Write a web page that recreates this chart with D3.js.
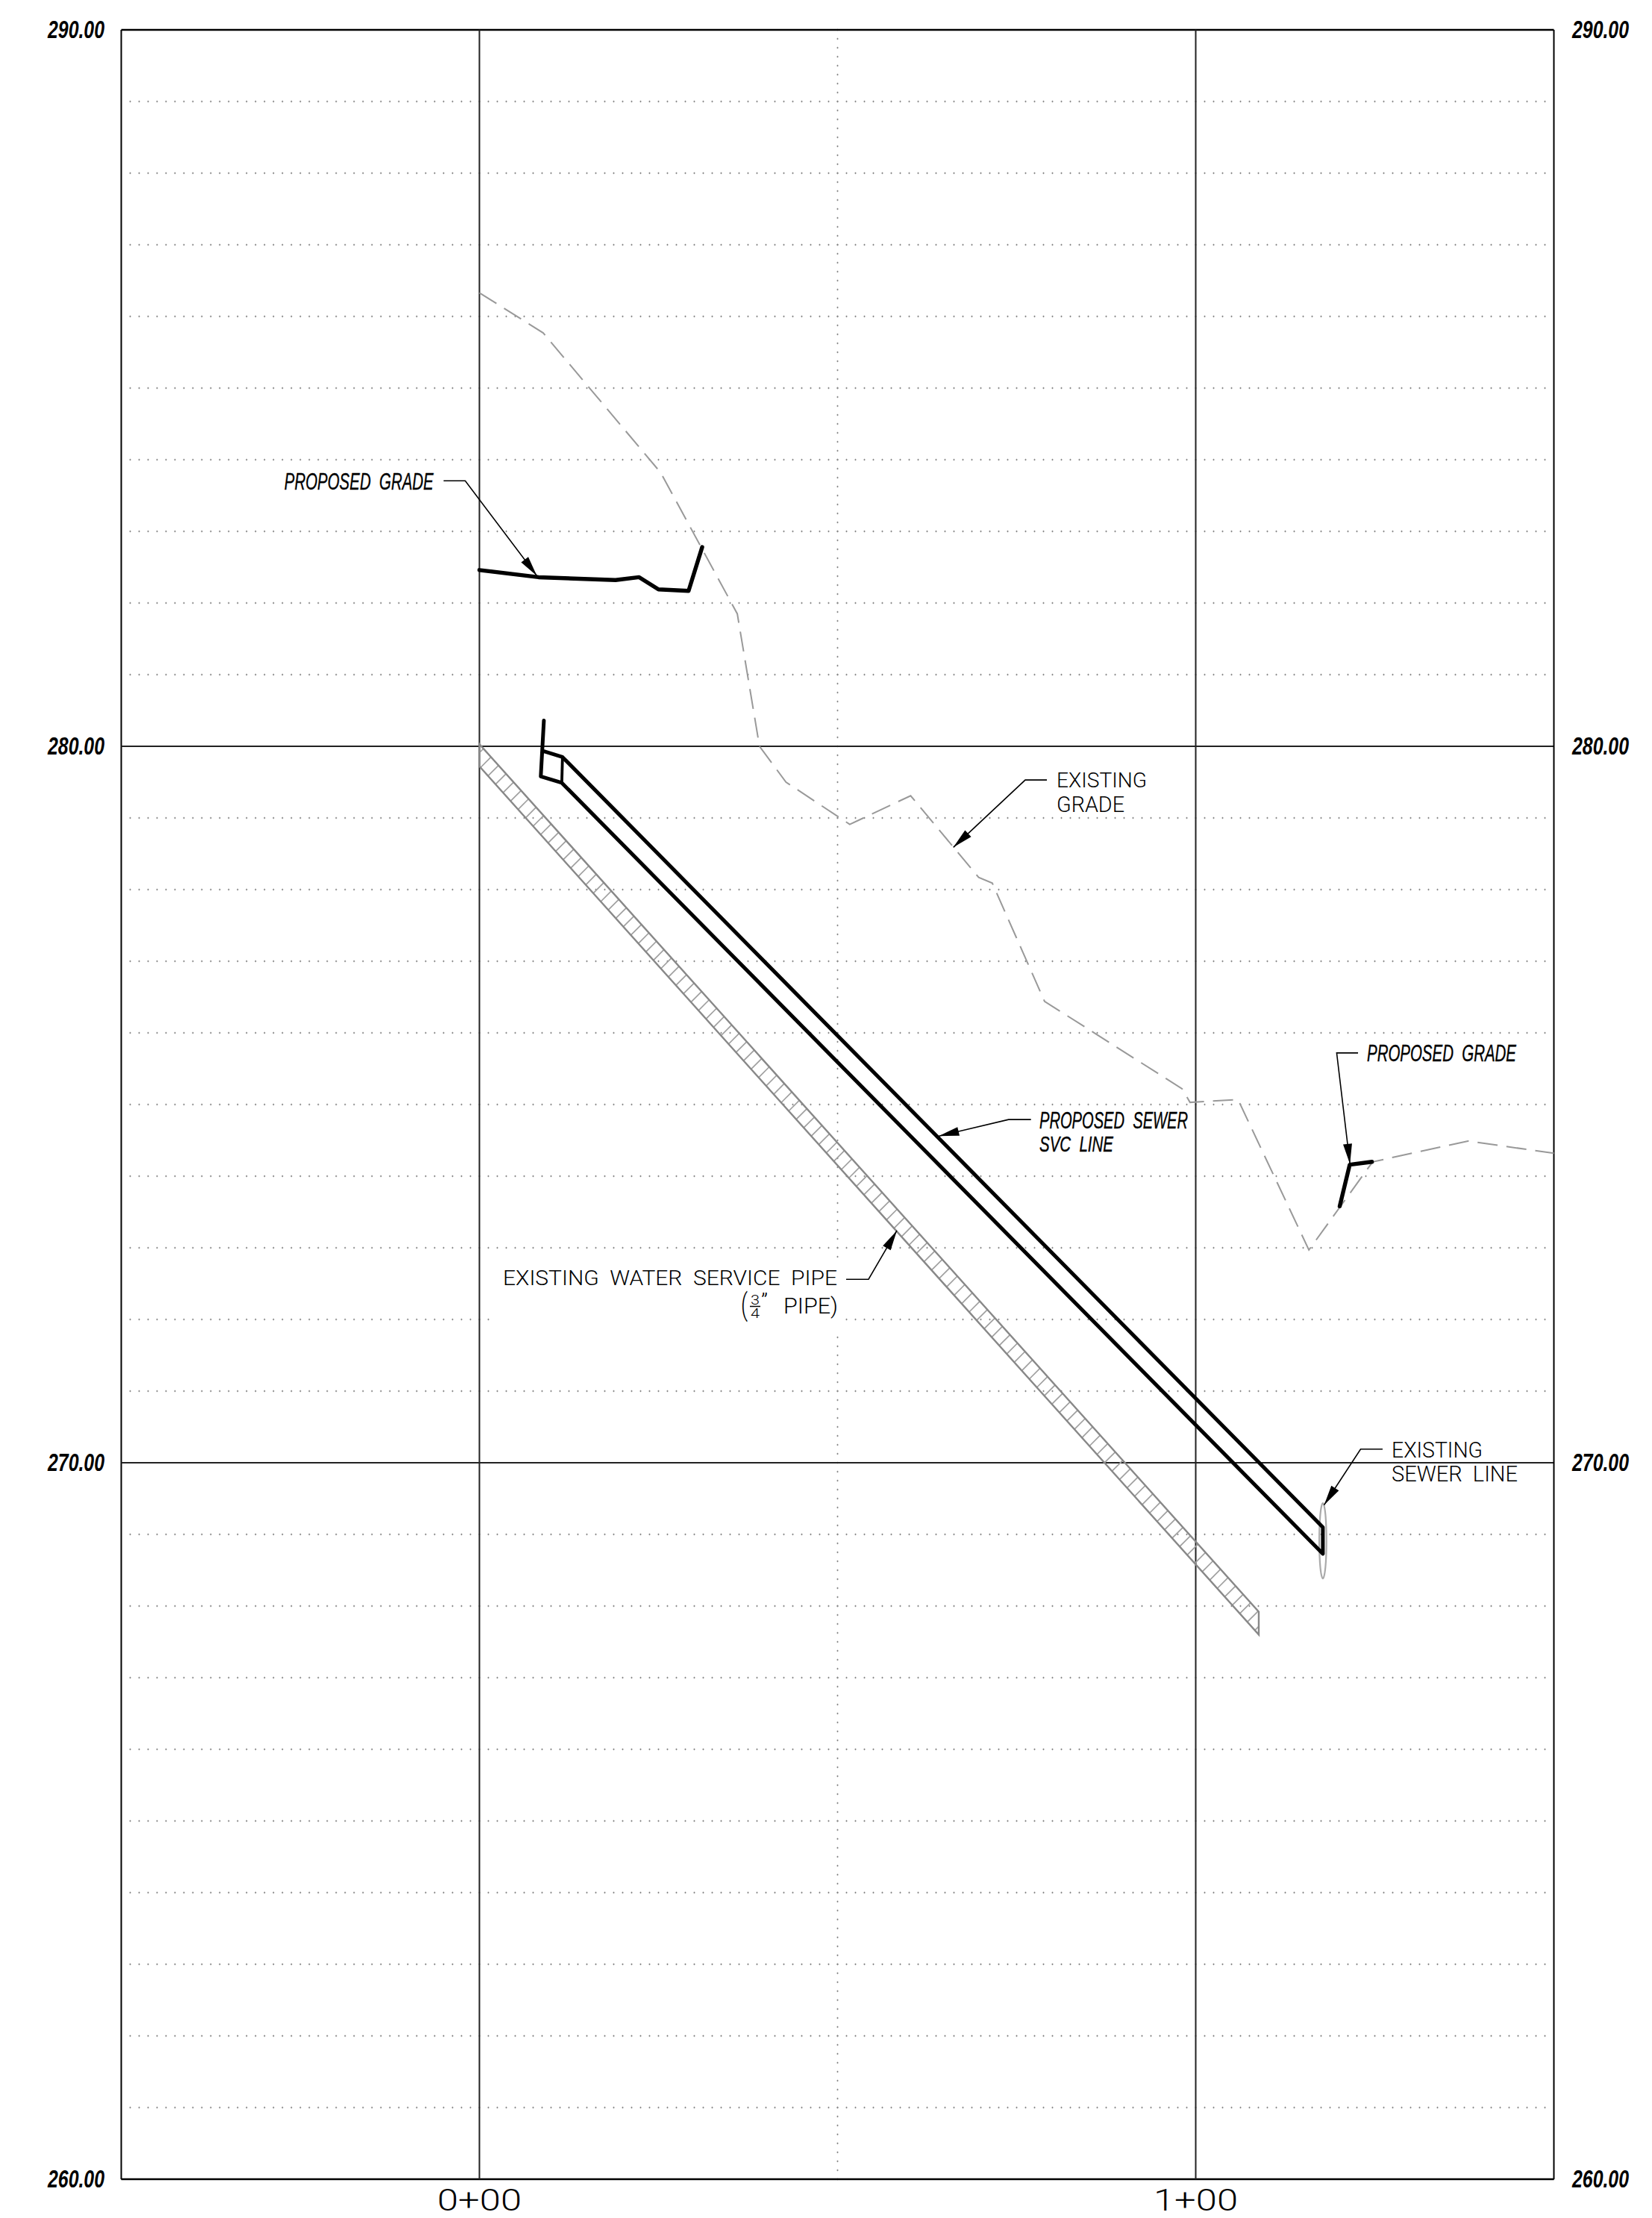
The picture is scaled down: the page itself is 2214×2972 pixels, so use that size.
<!DOCTYPE html>
<html>
<head>
<meta charset="utf-8">
<script src="https://cdnjs.cloudflare.com/ajax/libs/d3/7.8.5/d3.min.js"></script>
<style>
  html, body { margin: 0; background: #fff; }
  svg { display: block; }
  text { white-space: pre; }
  .note { font-family: "Roboto", "Liberation Sans", sans-serif; font-weight: 300; fill: #000; }
  .tag { font-family: "Liberation Sans Narrow", "Liberation Sans", sans-serif; font-style: italic; fill: #000; stroke: #000; stroke-width: 0.4; }
  .elev text { font-family: "Liberation Sans Narrow", "Liberation Sans", sans-serif; font-style: italic; font-weight: bold; font-size: 33px; fill: #000; }
  .sta text { font-family: "Roboto", "Liberation Sans", sans-serif; font-weight: 300; font-size: 41px; fill: #000; }
</style>
</head>
<body>
<svg id="chart" width="2214" height="2972"></svg>
<script>
// profile values, [station ft, elevation ft]
const elevTicks = [290, 280, 270, 260]
const staTicks = [0, 100]
const existingGrade = [[0, 286.33], [8.9, 285.77], [25.3, 283.82], [36, 281.85], [39.1, 280.0], [42.8, 279.5],
  [51.7, 278.91], [60.2, 279.31], [69.7, 278.17], [71.6, 278.09], [78.9, 276.44], [98.1, 275.22], [99.2, 275.03],
  [105.9, 275.07], [115.8, 272.97], [124.7, 274.2], [138, 274.49], [150, 274.32]]
const proposedGradeA = [[0, 282.46], [8.25, 282.36], [19, 282.32], [22.3, 282.36], [25, 282.19], [29.2, 282.17], [31.1, 282.78]]
const proposedGradeB = [[120.1, 273.58], [121.5, 274.16], [124.6, 274.2]]
const sewerLine = [[9, 280.36], [8.57, 279.58], [11.5, 279.49], [117.75, 268.73], [117.75, 269.1], [11.6, 279.85], [9, 279.93]]
const sewerJoint = [[11.6, 279.85], [11.5, 279.49]]
const waterTop = [[0, 280.03], [108.8, 267.92]]
const waterBottom = [[0, 279.72], [108.8, 267.6]]
const existingSewer = { station: 117.75, elev: 268.91, halfStation: 0.5, halfElev: 0.526 }
// leader lines: landing start, elbow, arrow tip
const leaders = [
  [[-5, 283.705], [-1.98, 283.705], [8.02, 282.38]],
  [[79.22, 279.53], [76.2, 279.53], [66.17, 278.59]],
  [[77, 274.79], [73.87, 274.79], [64.15, 274.56]],
  [[122.66, 275.72], [119.68, 275.72], [121.53, 274.17]],
  [[51.2, 272.56], [54.32, 272.56], [58.28, 273.24]],
  [[126.09, 270.19], [123.02, 270.19], [117.92, 269.41]]
]

const svg = d3.select("#chart")
const plot = { left: 162.5, right: 2082.5, top: 40, bottom: 2920 }

const x = d3.scaleLinear().domain([-50, 150]).range([plot.left, plot.right])
const y = d3.scaleLinear().domain([260, 290]).range([plot.bottom, plot.top])
const line = d3.line().x(d => x(d[0])).y(d => y(d[1]))

// dotted grid, every foot of elevation plus the half station
const dotPath = "M-1.2,0H1.2M0,-1.2V1.2"
const dotStations = d3.range(1, 160).map(k => -50 + k * 1.25)
const dotElevs = d3.range(261, 290).filter(e => e !== 280 && e !== 270)
const dots = []
dotElevs.forEach(e => dotStations.forEach(s => dots.push([s, e])))
d3.range(0, 241).forEach(k => dots.push([50, 260 + k * 0.125]))

svg.append("g").selectAll("path")
  .data(dots)
  .enter().append("path")
  .attr("d", dotPath)
  .attr("transform", d => "translate(" + x(d[0]) + "," + y(d[1]) + ")")
  .attr("stroke", "#888")
  .attr("stroke-width", 1)

// wipeout behind the water pipe note
svg.append("rect").attr("x", 660).attr("y", 1690).attr("width", 468).attr("height", 96).attr("fill", "#fff")

// axes carry the solid grid
const yAxisL = d3.axisLeft(y).tickValues(elevTicks).tickFormat(d3.format(".2f"))
  .tickSizeInner(-(plot.right - plot.left)).tickSizeOuter(0).tickPadding(22.5).offset(0)
const yAxisR = d3.axisRight(y).tickValues(elevTicks).tickFormat(d3.format(".2f"))
  .tickSize(0).tickPadding(24.5).offset(0)
const xAxis = d3.axisBottom(x).tickValues(staTicks).tickFormat(d => (d / 100) + "+00")
  .tickSizeInner(-(plot.bottom - plot.top)).tickSizeOuter(0).tickPadding(12.9).offset(0)

const gL = svg.append("g").attr("class", "elev").attr("transform", "translate(" + plot.left + ",0)").call(yAxisL)
const gR = svg.append("g").attr("class", "elev").attr("transform", "translate(" + plot.right + ",0)").call(yAxisR)
const gX = svg.append("g").attr("class", "sta").attr("transform", "translate(0," + plot.bottom + ")").call(xAxis)

gL.selectAll("line")
  .attr("stroke", d => (d === 290 || d === 260) ? "#000" : "#222")
  .attr("stroke-width", d => (d === 290 || d === 260) ? 2.6 : 2)
gL.selectAll("text").attr("textLength", 76).attr("lengthAdjust", "spacingAndGlyphs")
gR.selectAll("text").attr("textLength", 76).attr("lengthAdjust", "spacingAndGlyphs")
gX.selectAll("line").attr("stroke", "#222").attr("stroke-width", 2)
gX.selectAll("text").attr("textLength", 113).attr("lengthAdjust", "spacingAndGlyphs")
svg.selectAll(".domain").attr("stroke", "#000").attr("stroke-width", 2)

// water pipe with hatch
const clip = waterTop.concat(waterBottom.slice().reverse())
svg.append("clipPath").attr("id", "waterClip").append("path").attr("d", line(clip) + "Z")
const pxTop = d3.scaleLinear().domain(waterTop.map(d => x(d[0]))).range(waterTop.map(d => y(d[1])))
const pipeDepth = y(waterBottom[0][1]) - y(waterTop[0][1])
const slope = (pxTop(x(100)) - pxTop(x(0))) / (x(100) - x(0))
const rise = pipeDepth / (1 + slope)
svg.append("g").attr("clip-path", "url(#waterClip)").selectAll("line")
  .data(d3.range(-3, 112, 1.05))
  .enter().append("line")
  .attr("x1", d => x(d))
  .attr("y1", d => pxTop(x(d)) + pipeDepth)
  .attr("x2", d => x(d) + rise)
  .attr("y2", d => pxTop(x(d)) + pipeDepth - rise)
  .attr("stroke", "#a0a0a0")
  .attr("stroke-width", 1.7)
svg.append("path").attr("d", line(clip) + "Z").attr("fill", "none").attr("stroke", "#888").attr("stroke-width", 2.4)

// existing grade
svg.append("path").attr("d", line(existingGrade)).attr("fill", "none")
  .attr("stroke", "#999").attr("stroke-width", 2).attr("stroke-dasharray", "27,12")

// existing sewer section
svg.append("ellipse")
  .attr("cx", x(existingSewer.station)).attr("cy", y(existingSewer.elev))
  .attr("rx", x(existingSewer.halfStation) - x(0)).attr("ry", y(260) - y(260 + existingSewer.halfElev))
  .attr("fill", "none").attr("stroke", "#aaa").attr("stroke-width", 2.2)

// proposed work
;[proposedGradeA, proposedGradeB].forEach(g => {
  svg.append("path").attr("d", line(g)).attr("fill", "none").attr("stroke", "#000")
    .attr("stroke-width", 5.4).attr("stroke-linecap", "round").attr("stroke-linejoin", "round")
})
svg.append("path").attr("d", line(sewerLine)).attr("fill", "none").attr("stroke", "#000")
  .attr("stroke-width", 5).attr("stroke-linejoin", "round").attr("stroke-linecap", "round")
svg.append("path").attr("d", line(sewerJoint)).attr("fill", "none").attr("stroke", "#000").attr("stroke-width", 3.8)

// leaders
leaders.forEach(l => {
  svg.append("path").attr("d", line(l)).attr("fill", "none").attr("stroke", "#000").attr("stroke-width", 1.6)
  const tx = x(l[2][0]), ty = y(l[2][1]), ex = x(l[1][0]), ey = y(l[1][1])
  const len = Math.hypot(ex - tx, ey - ty), ux = (ex - tx) / len, uy = (ey - ty) / len
  const bx = tx + ux * 27, by = ty + uy * 27
  svg.append("path")
    .attr("d", d3.line()([[tx, ty], [bx - uy * 6, by + ux * 6], [bx + uy * 6, by - ux * 6]]) + "Z")
    .attr("fill", "#000")
})

// text placed by its cap box
function label(cls, text, x0, x1, capTop, capBottom) {
  svg.append("text").attr("class", cls)
    .attr("x", x0).attr("y", capBottom)
    .attr("font-size", (capBottom - capTop) / 0.716)
    .attr("textLength", x1 - x0).attr("lengthAdjust", "spacingAndGlyphs")
    .text(text)
}
label("tag", "PROPOSED  GRADE", 381, 581, 633, 656)
label("tag", "PROPOSED  GRADE", 1832, 2032, 1400, 1422)
label("tag", "PROPOSED  SEWER", 1393, 1592, 1489, 1512)
label("tag", "SVC  LINE", 1393, 1492, 1522, 1543)
label("note", "EXISTING", 1416, 1537, 1035, 1055)
label("note", "GRADE", 1416, 1507, 1067, 1088)
label("note", "EXISTING", 1865, 1987, 1932, 1953)
label("note", "SEWER  LINE", 1865, 2034, 1964, 1985)
label("note", "EXISTING  WATER  SERVICE  PIPE", 674, 1122, 1702, 1722)

// second line of the water note, one text with a stacked fraction
const pipeSize = [
  { t: "(", x: 993, y: 1762, size: 40, len: 9 },
  { t: "3", x: 1006, y: 1748, size: 19, len: 12 },
  { t: "4", x: 1006, y: 1766, size: 19, len: 12 },
  { t: "\u201D", x: 1020, y: 1753, size: 28, len: 9 },
  { t: "PIPE)", x: 1050, y: 1760, size: 29, len: 73 }
]
svg.append("text").attr("class", "note").selectAll("tspan")
  .data(pipeSize)
  .enter().append("tspan")
  .attr("x", d => d.x).attr("y", d => d.y)
  .attr("font-size", d => d.size)
  .attr("textLength", d => d.len).attr("lengthAdjust", "spacingAndGlyphs")
  .text(d => d.t)
svg.append("line").attr("x1", 1005).attr("x2", 1019).attr("y1", 1750.5).attr("y2", 1750.5)
  .attr("stroke", "#000").attr("stroke-width", 1.5)
</script>
</body>
</html>
